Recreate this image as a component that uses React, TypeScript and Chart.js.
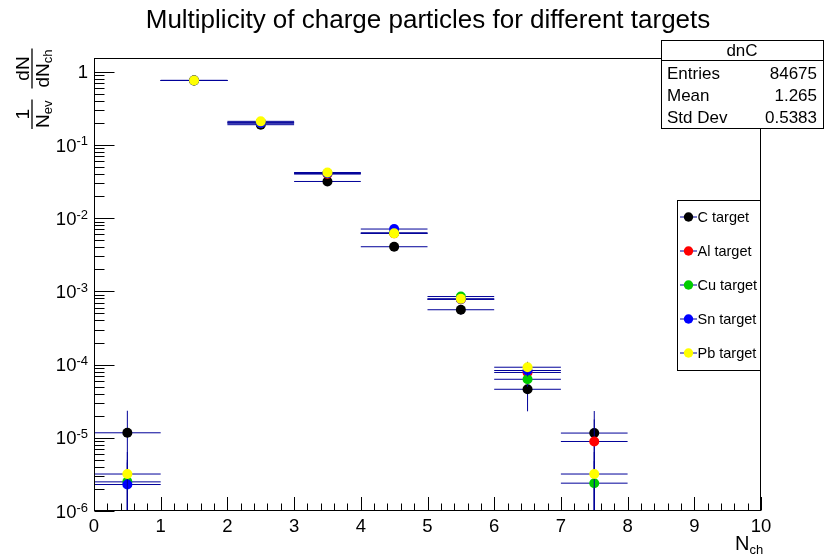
import React, { useEffect, useRef } from "react";
import { Chart, registerables } from "chart.js";

Chart.register(...registerables);

// ---------- data ----------
const binCenters = [0.5, 1.5, 2.5, 3.5, 4.5, 5.5, 6.5, 7.5];
const binHalfWidth = 0.5;

const targetNames = ["C target", "Al target", "Cu target", "Sn target", "Pb target"];
const targetColors = ["#000000", "#ff0000", "#00cc00", "#0000ff", "#ffff00"];

const cValues = [1.17e-5, 0.76, 0.189, 0.0317, 0.00407, 0.000561, 4.6e-5, 1.16e-5];
const cErrors = [1.17e-5, 0.003, 0.0015, 0.0006, 0.00022, 8.1e-5, 2.3e-5, 1.16e-5];

const alValues = [null, 0.76, 0.2, 0.04, 0.0062, 0.00078, 7.8e-5, 8.9e-6];
const alErrors = [null, 0.0026, 0.0013, 0.0006, 0.00024, 8.4e-5, 2.6e-5, 8.9e-6];

const cuValues = [2.5e-6, 0.76, 0.2, 0.041, 0.0063, 0.00085, 6.3e-5, 2.4e-6];
const cuErrors = [2.5e-6, 0.0014, 0.0007, 0.00032, 0.000126, 4.6e-5, 1.3e-5, 2.4e-6];

const snValues = [2.3e-6, 0.76, 0.2, 0.041, 0.0071, 0.00078, 8.3e-5, null];
const snErrors = [2.3e-6, 0.0013, 0.00068, 0.00031, 0.000128, 4.2e-5, 1.4e-5, null];

const pbValues = [3.2e-6, 0.76, 0.21, 0.042, 0.0062, 0.00079, 9.2e-5, 3.2e-6];
const pbErrors = [3.2e-6, 0.0015, 0.00082, 0.00037, 0.00014, 5e-5, 1.7e-5, 3.2e-6];

const seriesValues = [cValues, alValues, cuValues, snValues, pbValues];
const seriesErrors = [cErrors, alErrors, cuErrors, snErrors, pbErrors];

const xTickLabels = ["0", "1", "2", "3", "4", "5", "6", "7", "8", "9", "10"];
const yTickExponents = [-6, -5, -4, -3, -2, -1, 0];

const titleText = "Multiplicity of charge particles for different targets";
const statTitle = "dnC";
const statLabels = ["Entries", "Mean", "Std Dev"];
const statValues = ["84675", "1.265", "0.5383"];

const X_MIN = 0;
const X_MAX = 10;
const Y_MIN = 1e-6;
const Y_MAX = 1.54;

const FONT = '"Liberation Sans", Arial, Helvetica, sans-serif';
const ERR_COLOR = "#000099";

const rootPlugin = {
  id: "rootStyle",
  beforeDatasetDraw(chart: any, args: any) {
    const idx = args.index;
    const vals = seriesValues[idx];
    const errs = seriesErrors[idx];
    const { ctx, chartArea: a } = chart;
    const xs = chart.scales.x;
    const ys = chart.scales.y;
    ctx.save();
    ctx.beginPath();
    ctx.rect(a.left, a.top, a.right - a.left, a.bottom - a.top);
    ctx.clip();
    ctx.strokeStyle = ERR_COLOR;
    ctx.lineWidth = 1;
    vals.forEach((v: number | null, i: number) => {
      if (v == null) return;
      const e = errs[i] ?? 0;
      const xc = xs.getPixelForValue(binCenters[i]);
      const x0 = xs.getPixelForValue(binCenters[i] - binHalfWidth);
      const x1 = xs.getPixelForValue(binCenters[i] + binHalfWidth);
      const yc = ys.getPixelForValue(v);
      const lo = v - e > Y_MIN * 0.5 ? ys.getPixelForValue(v - e) : a.bottom + 5;
      const hi = ys.getPixelForValue(v + e);
      ctx.beginPath();
      ctx.moveTo(x0, yc);
      ctx.lineTo(x1, yc);
      ctx.moveTo(xc, hi);
      ctx.lineTo(xc, lo);
      ctx.stroke();
    });
    ctx.restore();
  },
  afterDraw(chart: any) {
    const { ctx, chartArea: a } = chart;
    const xs = chart.scales.x;
    const ys = chart.scales.y;
    ctx.save();

    // Title
    ctx.fillStyle = "#000";
    ctx.font = `26px ${FONT}`;
    ctx.textAlign = "center";
    ctx.textBaseline = "alphabetic";
    ctx.fillText(titleText, 428, 28);

    // Frame
    ctx.strokeStyle = "#000";
    ctx.lineWidth = 1;
    const L = Math.round(a.left) + 0.5;
    const R = Math.round(a.right) - 0.5;
    const T = Math.round(a.top) + 0.5;
    const B = Math.round(a.bottom) - 0.5;
    ctx.strokeRect(L, T, R - L, B - T);

    // X ticks
    ctx.beginPath();
    for (let k = 0; k <= 50; k++) {
      const v = X_MIN + (k * (X_MAX - X_MIN)) / 50;
      const px = Math.round(xs.getPixelForValue(v)) + 0.5;
      const len = k % 5 === 0 ? 13.5 : 7;
      ctx.moveTo(px, B);
      ctx.lineTo(px, B - len);
    }
    // Y ticks
    yTickExponents.forEach((ex) => {
      const py = Math.round(ys.getPixelForValue(Math.pow(10, ex))) + 0.5;
      ctx.moveTo(L, py);
      ctx.lineTo(L + 20, py);
      if (ex < 0) {
        for (let m = 2; m <= 9; m++) {
          const pm = Math.round(ys.getPixelForValue(m * Math.pow(10, ex))) + 0.5;
          ctx.moveTo(L, pm);
          ctx.lineTo(L + 10, pm);
        }
      }
    });
    ctx.stroke();

    // X tick labels
    ctx.font = `18.5px ${FONT}`;
    ctx.textAlign = "center";
    ctx.textBaseline = "alphabetic";
    xTickLabels.forEach((lab, i) => {
      ctx.fillText(lab, xs.getPixelForValue(i), 532);
    });

    // Y tick labels
    const rightX = 88;
    yTickExponents.forEach((ex) => {
      const ty = ys.getPixelForValue(Math.pow(10, ex));
      if (ex === 0) {
        ctx.font = `18.5px ${FONT}`;
        ctx.textAlign = "right";
        ctx.fillText("1", rightX, ty + 6.6);
        return;
      }
      const sup = "-" + Math.abs(ex);
      ctx.font = `13px ${FONT}`;
      const supW = ctx.measureText(sup).width;
      ctx.font = `18.5px ${FONT}`;
      const baseW = ctx.measureText("10").width;
      ctx.textAlign = "left";
      ctx.fillText("10", rightX - supW - baseW, ty + 6.6);
      ctx.font = `13px ${FONT}`;
      ctx.fillText(sup, rightX - supW, ty + 0.5);
    });

    // X axis title N_ch
    ctx.textAlign = "left";
    ctx.font = `20px ${FONT}`;
    ctx.fillText("N", 735, 550);
    const nW = ctx.measureText("N").width;
    ctx.font = `13px ${FONT}`;
    ctx.fillText("ch", 735 + nW, 554);

    // Y axis title: (1/N_ev) (dN/dN_ch), rotated
    ctx.save();
    const barX = 32;
    ctx.translate(barX, 0);
    ctx.rotate(-Math.PI / 2);
    // rotated: u = -screenY, v = screenX - barX
    const mainPx = 19;
    const subPx = 13;
    const drawFrac = (uStart: number, num: string, denMain: string, denSub: string) => {
      ctx.font = `${mainPx}px ${FONT}`;
      const dW = ctx.measureText(denMain).width;
      ctx.font = `${subPx}px ${FONT}`;
      const sW = ctx.measureText(denSub).width;
      const denW = dW + sW;
      ctx.font = `${mainPx}px ${FONT}`;
      const nW2 = ctx.measureText(num).width;
      const w = Math.max(denW, nW2) + 2;
      ctx.beginPath();
      ctx.moveTo(uStart, 0);
      ctx.lineTo(uStart + w, 0);
      ctx.lineWidth = 1.3;
      ctx.stroke();
      ctx.textAlign = "left";
      ctx.fillText(num, uStart + (w - nW2) / 2, -3);
      const d0 = uStart + (w - denW) / 2;
      ctx.fillText(denMain, d0, 16.5);
      ctx.font = `${subPx}px ${FONT}`;
      ctx.fillText(denSub, d0 + dW, 20);
      return w;
    };
    const w1 = drawFrac(-129, "1", "N", "ev");
    drawFrac(-129 + w1 + 11, "dN", "dN", "ch");
    ctx.restore();

    // Legend
    const lgL = 677.5, lgT = 200.5, lgR = R, lgB = 370.5;
    ctx.fillStyle = "#fff";
    ctx.fillRect(lgL, lgT, lgR - lgL, lgB - lgT);
    ctx.strokeStyle = "#000";
    ctx.lineWidth = 1;
    ctx.strokeRect(lgL, lgT, lgR - lgL, lgB - lgT);
    targetNames.forEach((name, i) => {
      const ey = 217 + i * 34;
      ctx.strokeStyle = ERR_COLOR;
      ctx.beginPath();
      ctx.moveTo(680, ey);
      ctx.lineTo(697, ey);
      ctx.stroke();
      ctx.fillStyle = targetColors[i];
      ctx.beginPath();
      ctx.arc(688.5, ey, 4.7, 0, Math.PI * 2);
      ctx.fill();
      ctx.fillStyle = "#000";
      ctx.font = `14.5px ${FONT}`;
      ctx.textAlign = "left";
      ctx.textBaseline = "middle";
      ctx.fillText(name, 697.5, ey + 0.5);
    });

    // Stat box
    const sL = 661.5, sT = 40.5, sR = 823.5, sB = 128.5;
    ctx.fillStyle = "#fff";
    ctx.fillRect(sL, sT, sR - sL, sB - sT);
    ctx.strokeStyle = "#000";
    ctx.strokeRect(sL, sT, sR - sL, sB - sT);
    ctx.beginPath();
    ctx.moveTo(sL, 60.5);
    ctx.lineTo(sR, 60.5);
    ctx.stroke();
    ctx.fillStyle = "#000";
    ctx.font = `17px ${FONT}`;
    ctx.textBaseline = "middle";
    ctx.textAlign = "center";
    ctx.fillText(statTitle, 742, 51);
    statLabels.forEach((lab, i) => {
      const ry = 74 + i * 22.3;
      ctx.textAlign = "left";
      ctx.fillText(lab, 667, ry);
      ctx.textAlign = "right";
      ctx.fillText(statValues[i], 817, ry);
    });

    ctx.restore();
  },
};

export default function App() {
  const canvasRef = useRef<HTMLCanvasElement | null>(null);

  useEffect(() => {
    const canvas = canvasRef.current;
    if (!canvas) return;
    const datasets = seriesValues.map((vals, si) => ({
      label: targetNames[si],
      data: vals
        .map((v, i) => (v == null ? null : { x: binCenters[i], y: v }))
        .filter((p) => p !== null) as { x: number; y: number }[],
      pointRadius: 5,
      pointHoverRadius: 5,
      pointBackgroundColor: targetColors[si],
      pointBorderColor: targetColors[si],
      pointBorderWidth: 0,
      showLine: false,
      order: seriesValues.length - si,
    }));
    const chart = new Chart(canvas, {
      type: "scatter",
      data: { datasets },
      options: {
        responsive: false,
        maintainAspectRatio: false,
        devicePixelRatio: 1,
        animation: false,
        events: [],
        layout: { padding: { left: 94, right: 64, top: 58, bottom: 46 } },
        plugins: {
          legend: { display: false },
          title: { display: false },
          tooltip: { enabled: false },
        },
        scales: {
          x: { type: "linear", min: X_MIN, max: X_MAX, display: false, bounds: "data" },
          y: { type: "logarithmic", min: Y_MIN, max: Y_MAX, display: false, bounds: "data" },
        },
      },
      plugins: [rootPlugin],
    } as any);
    return () => chart.destroy();
  }, []);

  return (
    <div style={{ position: "fixed", left: 0, top: 0, width: 825, height: 557, background: "#fff" }}>
      <canvas ref={canvasRef} width={825} height={557} style={{ display: "block" }} />
    </div>
  );
}
